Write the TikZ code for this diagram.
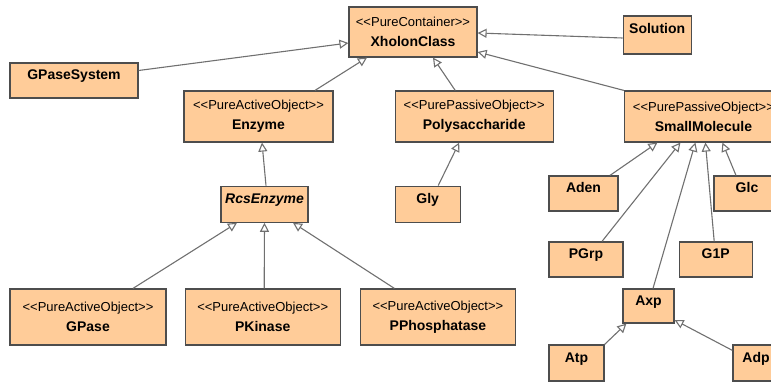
\documentclass[tikz,border=0pt]{standalone}
\usepackage{fontspec}
\setmainfont{Liberation Sans}
\usetikzlibrary{positioning, arrows.meta}
\definecolor{pessego}{HTML}{FFCC99}
\definecolor{borda}{HTML}{4D4D4D}
\definecolor{linha}{HTML}{707070}
\newcommand{\estereo}[1]{{\mdseries\fontsize{13}{15}\selectfont\symbol{60}\symbol{60}#1\symbol{62}\symbol{62}}}

\begin{document}
\begin{tikzpicture}[x=1pt, y=-1pt,
    classe/.style={draw=borda, fill=pessego, line width=1.2pt, align=center, inner sep=2pt, font=\fontsize{14}{20}\selectfont\bfseries},
    nome/.style={classe, text height=10pt, text depth=12pt},
    heranca/.style={-{Triangle[open, length=9pt, width=9pt]}, draw=linha, line width=1.1pt}
]
\clip (0,0) rectangle (771,382);
% topo
\node[classe, minimum width=128pt, minimum height=50pt] (xholon) at (413,32) {\estereo{PureContainer}\\XholonClass};
\node[nome, minimum width=68pt, minimum height=38pt, right=145pt of xholon, yshift=-3pt] (solution) {Solution};
\node[nome, minimum width=128pt, minimum height=35pt] (gpasesystem) at (74,80.5) {GPaseSystem};
% segunda linha
\node[classe, minimum width=149pt, minimum height=51pt] (enzyme) at (258.5,116.5) {\estereo{PureActiveObject}\\Enzyme};
\node[classe, minimum width=158pt, minimum height=51pt, right=61pt of enzyme] (polysaccharide) {\estereo{PurePassiveObject}\\Polysaccharide};
\node[classe, minimum width=158pt, minimum height=51pt, right=70pt of polysaccharide] (smallmolecule) {\estereo{PurePassiveObject}\\SmallMolecule};
% enzimas
\node[nome, minimum width=87pt, minimum height=36pt, below=43pt of enzyme, xshift=6pt] (rcsenzyme) {\itshape RcsEnzyme};
\node[classe, minimum width=156pt, minimum height=56pt] (gpase) at (88,317) {\estereo{PureActiveObject}\\GPase};
\node[classe, minimum width=155pt, minimum height=56pt, right=18pt of gpase] (pkinase) {\estereo{PureActiveObject}\\PKinase};
\node[classe, minimum width=155pt, minimum height=56pt, right=19pt of pkinase] (pphosphatase) {\estereo{PureActiveObject}\\PPhosphatase};
\node[nome, minimum width=65pt, minimum height=36pt, below=43pt of polysaccharide, xshift=-46.5pt] (gly) {Gly};
% moleculas
\node[nome, minimum width=69pt, minimum height=35pt] (aden) at (583.5,193.5) {Aden};
\node[nome, minimum width=66pt, minimum height=35pt] (glc) at (747,193.5) {Glc};
\node[nome, minimum width=74pt, minimum height=35pt] (pgrp) at (586,259.5) {PGrp};
\node[nome, minimum width=73pt, minimum height=35pt, right=55pt of pgrp] (g1p) {G1P};
\node[nome, minimum width=51pt, minimum height=34pt] (axp) at (648.5,306) {Axp};
\node[nome, minimum width=55pt, minimum height=36pt] (atp) at (576.5,363) {Atp};
\node[nome, minimum width=46pt, minimum height=36pt] (adp) at (756,363) {Adp};

\draw[heranca] ([yshift=10pt]gpasesystem.east) -- ([yshift=-11pt]xholon.west);
\draw[heranca] ([yshift=-3pt]solution.west) -- ([yshift=-1pt]xholon.east);
\draw[heranca] (smallmolecule.north west) -- ([yshift=-20pt]xholon.east);
\draw[heranca] ([xshift=-19pt]polysaccharide.north) -- ([xshift=20pt]xholon.south);
\draw[heranca] ([xshift=56.5pt]enzyme.north) -- ([xshift=-46pt]xholon.south);
\draw[heranca] ([xshift=1.5pt]rcsenzyme.north) -- ([xshift=3.5pt]enzyme.south);
\draw[heranca] ([xshift=45pt]gpase.north) -- ([xshift=-27.5pt]rcsenzyme.south);
\draw[heranca] ([xshift=1.5pt]pkinase.north) -- (rcsenzyme.south);
\draw[heranca] ([xshift=-43.5pt]pphosphatase.north) -- ([xshift=28.5pt]rcsenzyme.south);
\draw[heranca] ([xshift=10.5pt]gly.north) -- ([xshift=-15pt]polysaccharide.south);
\draw[heranca] ([xshift=26.5pt]aden.north) -- ([xshift=-46pt]smallmolecule.south);
\draw[heranca] ([xshift=16pt]pgrp.north) -- ([xshift=-23pt]smallmolecule.south);
\draw[heranca] ([xshift=4.5pt]axp.north) -- ([xshift=-8pt]smallmolecule.south);
\draw[heranca] ([xshift=-1.5pt]g1p.north) -- ([xshift=2pt]smallmolecule.south);
\draw[heranca] ([xshift=-11pt]glc.north) -- ([xshift=19pt]smallmolecule.south);
\draw[heranca] (atp.north east) -- ([xshift=4pt]axp.south west);
\draw[heranca] ([yshift=-6pt]adp.north west) -- ([yshift=-14pt]axp.east);
\end{tikzpicture}
\end{document}
